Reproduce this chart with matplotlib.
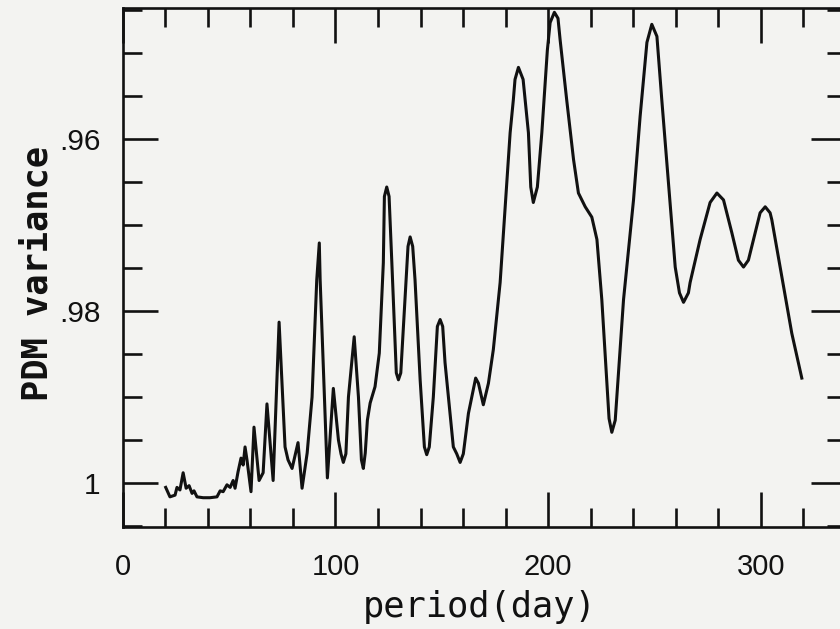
import matplotlib
matplotlib.use("Agg")
import matplotlib.pyplot as plt
from matplotlib.ticker import FixedLocator, MultipleLocator

# PDM periodogram
period = [
    20.2, 22.2, 24.6, 25.5, 26.9, 28.4, 29.8, 31.2, 32.6, 33.5, 34.9, 37.8,
    41.0, 44.3, 45.8, 47.2, 49.0, 50.5, 51.9, 52.8, 54.2, 55.6, 56.6, 57.5,
    58.4, 60.3, 61.7, 64.1, 66.0, 67.8, 70.7, 73.5, 76.3, 77.7, 79.6, 82.4,
    84.3, 86.7, 89.0, 91.2, 92.4, 92.8, 96.2, 99.0, 101.4, 102.6, 103.7, 104.9,
    106.1, 108.8, 110.8, 112.2, 113.1, 114.0, 115.0, 116.3, 118.6, 120.6, 122.5, 123.0,
    124.1, 125.2, 126.5, 128.6, 129.6, 130.7, 132.3, 134.1, 135.1, 136.3, 137.4, 139.8,
    141.8, 142.9, 144.1, 146.0, 147.9, 149.2, 150.4, 151.5, 155.4, 157.0, 158.6, 160.1,
    162.5, 165.9, 167.2, 169.5, 171.9, 174.2, 177.4, 180.5, 182.1, 183.6, 184.4, 186.0,
    188.2, 190.7, 191.8, 193.0, 194.9, 197.0, 199.6, 200.9, 202.9, 204.6, 205.6, 208.7,
    211.9, 214.2, 217.4, 220.5, 222.9, 225.2, 227.6, 228.6, 229.9, 231.5, 233.8, 235.4,
    240.1, 243.2, 246.4, 248.7, 251.1, 253.4, 256.5, 259.7, 261.7, 263.6, 265.9, 266.7,
    271.4, 276.1, 279.3, 282.4, 286.3, 289.4, 291.8, 294.1, 296.5, 299.6, 302.0, 304.3,
    305.1, 309.0, 314.5, 319.2,
]
pdm = [
    1.0005, 1.0016, 1.0014, 1.0005, 1.0008, 0.9988, 1.0006, 1.0003, 1.0012, 1.0009, 1.0016, 1.0017,
    1.0017, 1.0016, 1.0009, 1.0010, 1.0002, 1.0005, 0.9997, 1.0006, 0.9987, 0.9971, 0.9979, 0.9958,
    0.9973, 1.0010, 0.9935, 0.9997, 0.9988, 0.9908, 0.9997, 0.9813, 0.9958, 0.9973, 0.9983, 0.9953,
    1.0006, 0.9965, 0.9900, 0.9764, 0.9721, 0.9764, 0.9994, 0.9890, 0.9950, 0.9966, 0.9976, 0.9966,
    0.9900, 0.9830, 0.9900, 0.9973, 0.9983, 0.9965, 0.9927, 0.9907, 0.9888, 0.9849, 0.9744, 0.9667,
    0.9656, 0.9667, 0.9744, 0.9872, 0.9880, 0.9872, 0.9802, 0.9725, 0.9714, 0.9725, 0.9764, 0.9880,
    0.9958, 0.9967, 0.9958, 0.9900, 0.9818, 0.9810, 0.9818, 0.9860, 0.9958, 0.9966, 0.9976, 0.9966,
    0.9919, 0.9878, 0.9884, 0.9909, 0.9884, 0.9845, 0.9767, 0.9651, 0.9593, 0.9555, 0.9531, 0.9517,
    0.9531, 0.9593, 0.9656, 0.9674, 0.9656, 0.9593, 0.9497, 0.9465, 0.9453, 0.9460, 0.9485, 0.9555,
    0.9624, 0.9663, 0.9679, 0.9691, 0.9717, 0.9787, 0.9884, 0.9925, 0.9941, 0.9927, 0.9845, 0.9787,
    0.9671, 0.9574, 0.9488, 0.9467, 0.9481, 0.9555, 0.9651, 0.9749, 0.9779, 0.9790, 0.9779, 0.9767,
    0.9717, 0.9674, 0.9663, 0.9671, 0.9709, 0.9741, 0.9749, 0.9741, 0.9717, 0.9686, 0.9679, 0.9686,
    0.9694, 0.9749, 0.9826, 0.9878,
]

x_major = [0, 100, 200, 300]
y_major = [0.96, 0.98, 1.0]
y_labels = [".96", ".98", "1"]

paper = "#f3f3f1"
ink = "#111111"

fig = plt.figure(figsize=(8.4, 6.29), dpi=100, facecolor=paper)
ax = fig.add_axes([0.1461, 0.1622, 0.8611, 0.8251], facecolor=paper)

ax.plot(period, pdm, color=ink, lw=2.2, solid_joinstyle="round")

ax.set_xlim(0, 340)
ax.set_ylim(1.0051, 0.9448)

ax.xaxis.set_major_locator(FixedLocator(x_major))
ax.xaxis.set_minor_locator(MultipleLocator(20))
ax.yaxis.set_major_locator(FixedLocator(y_major))
ax.yaxis.set_minor_locator(MultipleLocator(0.005))
ax.set_xticklabels([str(v) for v in x_major])
ax.set_yticklabels(y_labels)

for s in ax.spines.values():
    s.set_linewidth(1.9)
    s.set_color(ink)

ax.tick_params(which="both", direction="in", top=True, right=True,
               color=ink, width=1.9)
ax.tick_params(which="major", length=25)
ax.tick_params(which="minor", length=13.5)
ax.tick_params(axis="x", which="major", pad=19, labelsize=21)
ax.tick_params(axis="y", which="major", pad=16, labelsize=21.5)
for lab in ax.get_xticklabels() + ax.get_yticklabels():
    lab.set_family("Liberation Sans")
    lab.set_color(ink)

ax.set_xlabel("period(day)", family="DejaVu Sans Mono", fontsize=25.5, color=ink)
ax.xaxis.set_label_coords(0.494, -0.121)
ax.set_ylabel("PDM variance", family="DejaVu Sans Mono", fontsize=25.5,
              fontweight="bold", color=ink)
ax.yaxis.set_label_coords(-0.095, 0.4875)

fig.savefig("out.png", dpi=100, facecolor=paper)
